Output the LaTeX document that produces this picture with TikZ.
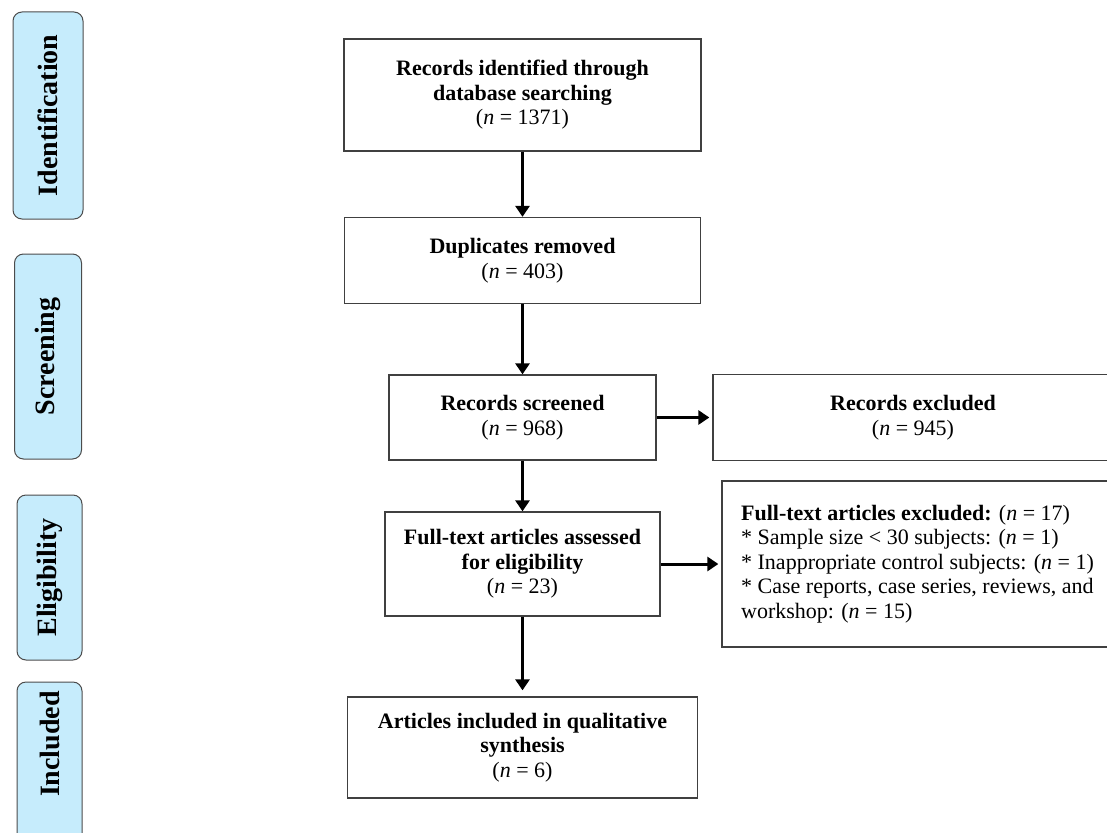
\documentclass[tikz,border=0pt]{standalone}
\usepackage{fontspec}
\setmainfont{Liberation Serif}
\usetikzlibrary{positioning,arrows.meta}
\definecolor{phaseblue}{RGB}{198,236,252}
\newcommand{\nval}[1]{\textnormal{(\textit{n} = #1)}}

\begin{document}
\begin{tikzpicture}[x=1pt,y=-1pt,on grid,
   box/.style={draw=black!75,line width=1.3pt,align=center,inner sep=8pt,
     font=\fontsize{22}{24.5}\selectfont\bfseries},
   note/.style={box,align=left,font=\fontsize{22}{24.5}\selectfont},
   phase/.style={draw=black!70,line width=1pt,fill=phaseblue,rounded corners=9pt,
     rotate=90,font=\fontsize{28}{30}\selectfont\bfseries},
   flow/.style={-{Triangle[length=11pt,width=14pt]},line width=3pt}]
   \clip (0,0) rectangle (1107,832);

   % phases on the left
   \node[phase, minimum width=207, minimum height=70] (identify) at (48,115.5) {Identification};
   \node[phase, minimum width=205, minimum height=67] (screen) at (48,356.5) {Screening};
   \node[phase, minimum width=165, minimum height=65] (eligible) at (49.5,577.5) {Eligibility};
   \node[phase, minimum width=190, minimum height=65] (include) at (49.5,777) {};
   \node[rotate=90, font=\fontsize{28}{30}\selectfont\bfseries] (includetxt) at (49.5,744) {Included};

   % main flow
   \node[box, minimum width=357, minimum height=112] (found) at (522.5,95)
      {Records identified through\\database searching\\\nval{1371}};
   \node[box, minimum width=356, minimum height=86] (dup) [below=165.5pt of found]
      {Duplicates removed\\\nval{403}};
   \node[box, minimum width=267, minimum height=85] (screened) [below=157pt of dup]
      {Records screened\\\nval{968}};
   \node[box, minimum width=275, minimum height=104] (assessed) [below=146.5pt of screened]
      {Full-text articles assessed\\for eligibility\\\nval{23}};
   \node[box, minimum width=350, minimum height=101] (synth) [below=183.5pt of assessed]
      {Articles included in qualitative\\synthesis\\\nval{6}};

   % excluded
   \node[box, minimum width=400, minimum height=86] (excl) [right=390.5pt of screened]
      {Records excluded\\\nval{945}};
   \node[note, minimum width=391, minimum height=166] (fullexcl) [right=395pt of assessed]
      {\textbf{Full-text articles excluded:} (\textit{n} = 17)\\
       * Sample size < 30 subjects: (\textit{n} = 1)\\
       * Inappropriate control subjects: (\textit{n} = 1)\\
       * Case reports, case series, reviews, and\\
       workshop: (\textit{n} = 15)};

   \draw[flow] (found) -- (dup);
   \draw[flow] (dup) -- (screened);
   \draw[flow] (screened) -- (assessed);
   \draw[flow, shorten >=6pt] (assessed) -- (synth);
   \draw[flow, shorten >=3pt] (screened) -- (excl);
   \draw[flow, shorten >=3pt] (assessed) -- (fullexcl);
\end{tikzpicture}
\end{document}
